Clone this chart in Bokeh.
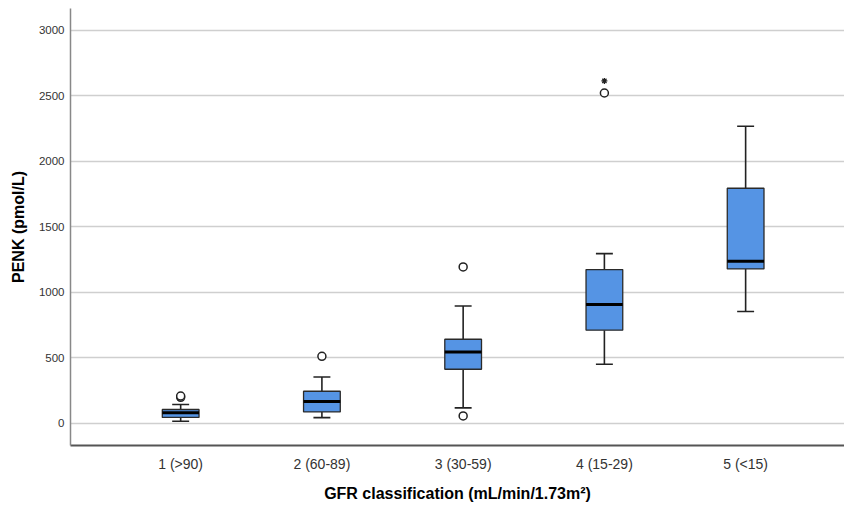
from bokeh.plotting import figure
from bokeh.models import Range1d, FixedTicker, ColumnDataSource
from bokeh.embed import file_html
from bokeh.resources import INLINE

# ---- data ----
categories = ["1 (>90)", "2 (60-89)", "3 (30-59)", "4 (15-29)", "5 (<15)"]
positions = [1, 2, 3, 4, 5]
q1 = [44, 86, 412, 710, 1178]
median = [80, 166, 544, 906, 1237]
q3 = [105, 244, 641, 1173, 1794]
whisker_low = [15, 43, 117, 450, 853]
whisker_high = [143, 353, 895, 1295, 2267]
outlier_group = [1, 1, 2, 3, 3, 4]
outlier_value = [198, 208, 511, 1193, 56, 2521]
extreme_group = [4]
extreme_value = [2613]
y_ticks = [0, 500, 1000, 1500, 2000, 2500, 3000]

BOX_W = 0.26
CAP_W = 0.12
FONT = "Liberation Sans"

src = ColumnDataSource(dict(
    x=positions, q1=q1, med=median, q3=q3, lo=whisker_low, hi=whisker_high,
    bx0=[p - BOX_W / 2 for p in positions], bx1=[p + BOX_W / 2 for p in positions],
    cx0=[p - CAP_W / 2 for p in positions], cx1=[p + CAP_W / 2 for p in positions],
))

p = figure(width=844, height=506, output_backend="svg", toolbar_location=None,
           x_range=Range1d(0.22, 5.70), y_range=Range1d(-170, 3166),
           min_border_left=70, min_border_right=0, min_border_top=8, min_border_bottom=61)
p.outline_line_color = None
p.background_fill_color = "white"

# whiskers
p.segment(x0="x", y0="q3", x1="x", y1="hi", source=src, line_color="#222222", line_width=1.6)
p.segment(x0="x", y0="lo", x1="x", y1="q1", source=src, line_color="#222222", line_width=1.6)
p.segment(x0="cx0", y0="hi", x1="cx1", y1="hi", source=src, line_color="#222222", line_width=1.6)
p.segment(x0="cx0", y0="lo", x1="cx1", y1="lo", source=src, line_color="#222222", line_width=1.6)

# boxes
p.vbar(x="x", width=BOX_W, top="q3", bottom="q1", source=src,
       fill_color="#5594E4", line_color="#2a2a2a", line_width=1.3)
# medians
p.segment(x0="bx0", y0="med", x1="bx1", y1="med", source=src, line_color="#000000", line_width=3)

# outliers
p.scatter(outlier_group, outlier_value, marker="circle", size=8, fill_color="white",
          line_color="#222222", line_width=1.5)
p.scatter(extreme_group, extreme_value, marker="asterisk", size=6,
          line_color="#222222", line_width=1.3)

# axes
p.xaxis.ticker = FixedTicker(ticks=positions)
p.xaxis.major_label_overrides = {pos: lab for pos, lab in zip(positions, categories)}
p.yaxis.ticker = FixedTicker(ticks=y_ticks)
p.xgrid.grid_line_color = None
p.ygrid.grid_line_color = "#cfcfcf"
p.ygrid.grid_line_width = 1.5

for ax in (p.xaxis, p.yaxis):
    ax.major_tick_line_color = None
    ax.minor_tick_line_color = None
    ax.major_tick_out = 0
    ax.major_tick_in = 0
    ax.minor_tick_out = 0
    ax.minor_tick_in = 0
    ax.major_label_text_font = FONT
    ax.axis_label_text_font = FONT
    ax.axis_label_text_font_style = "bold"
    ax.axis_label_text_color = "#000000"
    ax.axis_label_text_font_size = "16px"
    ax.major_label_text_color = "#333333"

p.yaxis.axis_line_color = "#888888"
p.yaxis.axis_line_width = 1.5
p.xaxis.axis_line_color = "#555555"
p.xaxis.axis_line_width = 2

p.yaxis.major_label_text_font_size = "11.5px"
p.xaxis.major_label_text_font_size = "14px"
p.yaxis.major_label_standoff = 6
p.xaxis.major_label_standoff = 10
p.yaxis.axis_label = "PENK (pmol/L)"
p.xaxis.axis_label = "GFR classification (mL/min/1.73m\u00b2)"
p.yaxis.axis_label_standoff = 9
p.xaxis.axis_label_standoff = 10

open("out.html", "w").write(file_html(p, INLINE))
